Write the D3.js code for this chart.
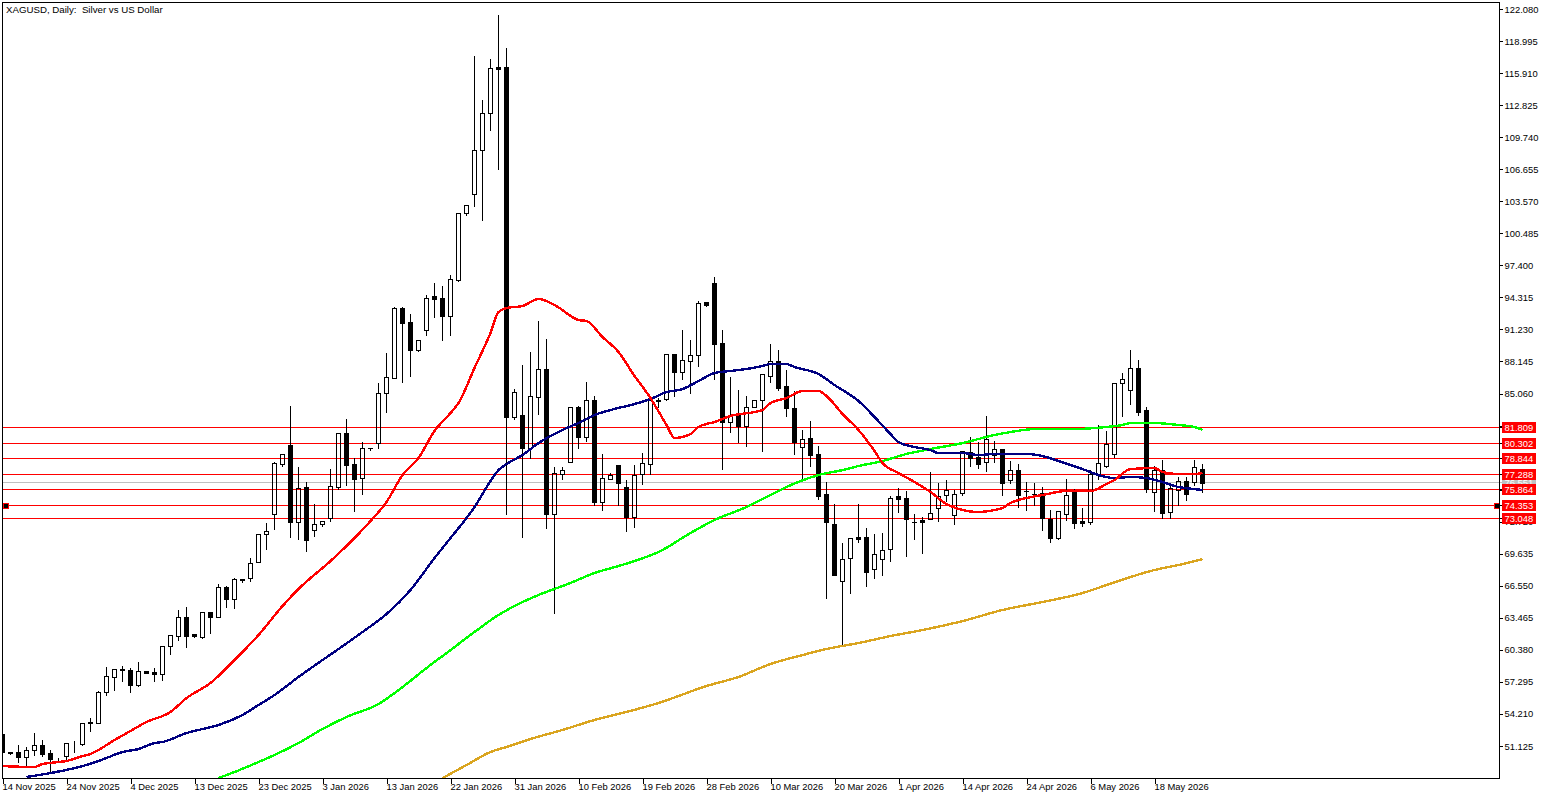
<!DOCTYPE html>
<html>
<head>
<meta charset="utf-8">
<title>XAGUSD Daily</title>
<script src="https://cdn.jsdelivr.net/npm/d3@7"></script>
<style>
  body { margin: 0; background: #fff; }
  svg { display: block; }
  text { font-family: "Liberation Sans", Arial, sans-serif; font-size: 9.4px; fill: #000; }
</style>
</head>
<body>
<svg id="chart" width="1547" height="799"></svg>
<script>
// Title and axis labels
var chartTitle = "XAGUSD, Daily:  Silver vs US Dollar";
var dateTickBars = [0, 8, 16, 24, 32, 40, 48, 56, 64, 72, 80, 88, 96, 104, 112, 120, 128, 136, 144];
var dateTickLabels = ["14 Nov 2025", "24 Nov 2025", "4 Dec 2025", "13 Dec 2025", "23 Dec 2025", "3 Jan 2026",
  "13 Jan 2026", "22 Jan 2026", "31 Jan 2026", "10 Feb 2026", "19 Feb 2026", "28 Feb 2026", "10 Mar 2026",
  "20 Mar 2026", "1 Apr 2026", "14 Apr 2026", "24 Apr 2026", "6 May 2026", "18 May 2026"];
var priceTicks = [122.08, 118.995, 115.91, 112.825, 109.74, 106.655, 103.57, 100.485, 97.4, 94.315, 91.23, 88.145,
  85.06, 81.975, 78.89, 75.805, 72.72, 69.635, 66.55, 63.465, 60.38, 57.295, 54.21, 51.125];

// Daily candles
var opens = [
  52.28,50.59,50.50,50.07,50.78,51.22,50.45,49.97,50.16,51.41,
  51.31,53.34,53.34,56.32,57.77,58.53,58.44,56.99,58.34,58.24,
  58.05,60.75,61.71,63.54,61.90,61.62,64.02,63.54,66.43,65.27,
  67.20,67.30,68.84,71.53,73.46,78.27,80.10,72.69,76.06,71.92,
  72.50,73.07,76.06,81.26,78.27,76.92,79.81,80.29,85.11,86.55,
  93.29,91.95,89.25,91.17,94.45,94.25,92.52,95.99,102.44,104.27,
  108.51,112.07,116.45,116.50,82.80,82.99,79.81,84.72,87.42,73.46,
  77.31,78.47,83.76,80.87,84.43,74.62,76.83,78.18,76.06,73.17,
  77.31,78.27,84.43,84.53,88.86,87.13,88.19,88.77,93.87,95.70,
  89.92,82.32,83.18,81.93,83.76,84.43,86.75,88.19,85.78,83.66,
  79.91,80.78,79.24,75.38,72.50,67.01,69.22,71.24,71.24,68.16,
  69.12,70.09,75.19,75.00,72.69,72.88,72.97,74.04,75.29,73.36,
  75.48,79.43,78.95,78.47,79.14,79.72,76.73,77.69,75.67,75.38,
  75.48,72.97,71.15,73.46,75.58,72.78,72.69,77.21,78.08,79.24,
  86.07,85.40,87.52,83.47,75.58,77.69,73.65,75.77,76.64,76.54,
  77.79];
var highs = [
  52.48,50.64,51.31,51.12,52.48,51.80,50.83,50.07,51.41,51.70,
  53.34,53.92,56.51,58.82,58.63,58.92,58.73,59.30,58.36,58.73,
  60.75,61.81,64.31,64.60,61.90,64.02,64.02,66.82,66.62,67.39,
  67.20,69.32,71.53,72.69,78.56,79.24,83.95,78.08,76.64,74.52,
  72.78,77.88,81.35,82.70,78.95,80.48,79.91,86.17,89.06,93.48,
  93.48,92.81,90.21,94.64,95.80,95.51,96.57,102.54,103.31,117.65,
  113.41,117.36,121.60,118.42,85.59,87.90,89.15,92.14,90.40,78.08,
  78.08,83.86,83.95,86.26,84.92,79.33,77.50,78.18,76.83,78.27,
  79.42,84.72,84.72,88.96,88.86,91.27,90.31,94.06,93.87,96.37,
  91.27,86.75,85.49,84.92,84.43,86.94,89.92,89.34,87.42,85.40,
  81.64,82.51,80.10,76.64,74.52,70.76,71.15,74.52,72.21,71.63,
  71.72,75.29,76.06,75.77,73.56,73.27,77.60,76.54,76.83,75.86,
  79.52,80.97,80.48,82.99,80.58,79.72,78.66,78.37,76.64,76.54,
  76.15,73.94,73.84,76.92,75.96,74.13,77.79,82.11,81.55,86.17,
  87.13,89.34,88.38,83.86,78.18,78.76,76.54,77.11,77.11,78.76,
  78.37];
var lows = [
  50.35,50.40,49.58,49.19,50.26,50.16,48.52,49.58,49.77,50.55,
  51.26,52.57,53.34,56.03,56.51,57.38,56.32,56.90,58.15,57.38,
  57.48,59.98,61.33,60.65,61.62,61.52,62.00,63.54,64.50,64.41,
  66.91,67.01,68.84,70.09,72.02,78.08,71.23,71.05,69.90,71.34,
  72.30,72.78,75.86,76.25,73.75,75.38,79.62,79.81,83.28,86.55,
  86.17,86.75,89.15,90.69,92.43,90.21,90.69,95.89,102.25,103.11,
  101.77,110.43,106.68,73.46,82.61,71.24,78.85,83.09,72.11,63.93,
  76.83,78.47,79.81,80.49,74.33,73.84,76.83,74.33,71.82,72.21,
  76.35,77.31,83.76,84.43,84.82,86.46,85.11,87.71,93.48,86.46,
  77.79,81.35,80.39,80.00,83.76,79.53,86.17,85.40,82.90,79.24,
  76.92,78.08,74.90,65.37,67.58,60.85,65.85,70.76,66.53,67.30,
  67.58,68.93,73.65,69.42,71.05,69.70,72.97,72.78,74.71,72.50,
  75.29,78.08,77.88,77.60,78.47,75.29,76.44,74.13,73.84,74.33,
  71.92,70.76,71.05,72.88,72.11,72.30,72.50,76.83,77.98,78.95,
  82.90,84.05,82.99,75.58,73.75,73.07,73.07,74.33,74.81,76.25,
  75.58];
var closes = [
  50.55,50.45,50.07,50.78,51.22,50.40,49.87,50.00,51.41,51.46,
  53.34,53.40,56.32,57.87,58.53,58.44,56.99,58.34,58.20,58.05,
  60.75,61.81,63.54,61.71,61.71,64.02,63.54,66.43,65.27,67.20,
  67.10,68.74,71.53,71.82,78.37,79.24,72.69,75.96,70.96,72.50,
  72.78,76.15,81.26,78.18,76.83,79.81,79.78,85.11,86.65,93.29,
  91.85,89.25,90.21,94.25,94.16,92.52,96.08,102.44,103.21,108.51,
  112.07,116.40,116.35,82.80,85.20,79.81,84.82,87.42,73.46,77.40,
  77.69,83.76,80.87,84.43,74.62,76.92,77.21,76.44,73.17,77.21,
  78.37,84.43,84.38,88.86,87.13,88.29,88.77,93.77,93.58,89.82,
  82.32,82.99,81.93,83.76,84.43,86.94,88.19,85.59,83.66,80.39,
  80.68,79.14,75.19,72.69,67.58,69.12,71.15,71.05,67.87,69.61,
  69.99,75.00,74.90,72.97,72.65,72.69,73.56,75.19,75.77,75.38,
  79.52,78.85,78.27,80.68,79.72,76.44,77.69,75.29,75.63,75.34,
  73.07,71.15,73.75,75.29,72.59,72.59,77.31,78.37,80.19,86.07,
  86.46,87.52,83.28,75.86,77.69,73.56,75.96,76.64,75.38,77.98,
  76.44];

// Moving averages at the listed bars
var redBars = [0,4,5,7,8,10,11,12,14,16,18,21,23,26,29,32,35,37,41,44,46,48,50,52,54,56,57,59,61,62,63,65,67,69,72,73,75,77,79,81,83,84,86,87,89,91,94,95,96,98,100,102,103,105,107,109,110,112,114,116,118,120,122,124,125,126,128,130,133,136,138,139,141,144,145,147,149,150];
var redValues = [49.19,49.10,49.39,49.58,49.68,50.16,50.35,50.74,51.70,52.57,53.44,54.40,55.74,57.19,59.40,61.81,64.60,66.24,68.93,71.15,72.78,74.62,77.21,78.85,81.45,83.18,84.14,87.52,90.89,92.91,93.29,93.48,94.16,93.58,92.14,92.04,90.50,89.06,86.75,84.63,82.03,80.78,81.16,81.84,82.32,82.90,83.28,83.47,84.14,84.63,85.30,85.30,84.82,83.09,81.55,79.53,78.37,77.40,76.54,75.58,74.42,73.84,73.65,73.84,74.04,74.52,75.00,75.29,75.67,75.67,76.35,76.73,77.79,77.88,77.50,77.31,77.31,77.40];
var navyBars = [3,6,10,12,13,15,17,19,20,23,25,27,30,32,34,37,40,42,45,48,51,54,56,58,59,60,61,62,63,65,67,70,72,74,76,79,81,83,85,87,89,91,93,95,96,98,99,102,104,107,109,111,112,114,116,117,120,122,124,128,130,132,135,137,139,141,143,145,147,149,150];
var navyValues = [48.14,48.52,49.19,49.68,49.97,50.55,50.83,51.41,51.51,52.37,52.76,53.15,54.11,55.07,56.03,57.77,59.40,60.46,62.10,63.83,66.14,69.22,71.15,73.07,74.13,75.38,76.64,77.69,78.27,79.14,80.29,81.55,82.22,82.99,83.47,84.05,84.53,85.20,85.49,86.26,87.03,87.23,87.42,87.71,87.90,87.90,87.61,86.94,85.88,84.34,82.80,81.16,80.39,79.91,79.62,79.33,79.33,79.14,79.24,79.24,79.04,78.56,77.79,77.21,76.92,77.02,76.92,76.54,76.06,75.86,75.77];
var limeBars = [27,29,32,34,37,40,43,47,50,53,56,59,62,64,67,71,74,77,79,82,86,89,93,96,98,102,105,107,110,113,116,120,122,124,126,129,134,138,140,141,144,147,149,150];
var limeValues = [48.04,48.62,49.58,50.26,51.41,52.76,53.92,55.17,56.80,58.63,60.36,62.10,63.74,64.60,65.66,66.82,67.78,68.45,68.93,69.80,71.63,72.88,74.13,75.29,76.06,77.21,77.69,78.08,78.56,79.24,79.72,80.29,80.68,81.07,81.35,81.64,81.64,81.84,82.03,82.22,82.22,82.03,81.84,81.55];
var goldBars = [55,58,61,63,66,70,74,78,82,88,92,96,100,103,107,111,115,120,125,130,135,138,141,144,147,150];
var goldValues = [48.04,49.29,50.55,51.03,51.80,52.67,53.63,54.40,55.26,56.90,57.77,59.02,59.88,60.46,61.04,61.71,62.29,63.15,64.22,64.99,65.85,66.62,67.39,68.07,68.55,69.12];

// Horizontal levels and the current price line
var levelValues = [81.809, 80.302, 78.844, 77.288, 75.864, 74.353, 73.048];
var selectedLevel = 74.353;
var bidPrice = 76.551;

var svg = d3.select("#chart");

// One candle every 8 px, price scale pinned on the printed ticks
var x = d3.scaleLinear().domain([0, 150]).range([2.5, 1202.5]);
var y = d3.scaleLinear().domain([51.125, 122.08]).range([746, 9]);
var yPx = v => Math.round(y(v));

svg.append("defs").append("clipPath").attr("id", "plot")
  .append("rect").attr("x", 3).attr("y", 3).attr("width", 1496).attr("height", 775);

var plot = svg.append("g").attr("clip-path", "url(#plot)");

// Levels sit behind the candles
plot.selectAll(".level").data(levelValues).enter().append("line")
  .attr("x1", 3).attr("x2", 1499)
  .attr("y1", d => yPx(d) + 0.5).attr("y2", d => yPx(d) + 0.5)
  .attr("stroke", "#ff0000").attr("shape-rendering", "crispEdges");

plot.append("line")
  .attr("x1", 3).attr("x2", 1499)
  .attr("y1", yPx(bidPrice) + 0.5).attr("y2", yPx(bidPrice) + 0.5)
  .attr("stroke", "#c0c0c0").attr("shape-rendering", "crispEdges");

// Candles
var bars = d3.range(opens.length).map(i => ({
  i: i, open: opens[i], high: highs[i], low: lows[i], close: closes[i]
}));
var candles = plot.selectAll(".candle").data(bars).enter().append("g")
  .attr("shape-rendering", "crispEdges");

// wick, split in two so hollow bodies stay empty
candles.append("line")
  .attr("x1", d => x(d.i)).attr("x2", d => x(d.i))
  .attr("y1", d => yPx(d.high) + 0.5)
  .attr("y2", d => yPx(Math.max(d.open, d.close)) + 0.5)
  .attr("stroke", "#000");
candles.append("line")
  .attr("x1", d => x(d.i)).attr("x2", d => x(d.i))
  .attr("y1", d => yPx(Math.min(d.open, d.close)) + 0.5)
  .attr("y2", d => yPx(d.low) + 0.5)
  .attr("stroke", "#000");

// bodies: up days are outlines, down days are solid
candles.filter(d => d.close >= d.open).append("rect")
  .attr("x", d => x(d.i) - 2)
  .attr("y", d => yPx(d.close) + 0.5)
  .attr("width", 4)
  .attr("height", d => yPx(d.open) - yPx(d.close))
  .attr("fill", "none").attr("stroke", "#000");
candles.filter(d => d.close < d.open).append("rect")
  .attr("x", d => x(d.i) - 2.5)
  .attr("y", d => yPx(d.open))
  .attr("width", 5)
  .attr("height", d => yPx(d.close) - yPx(d.open) + 1)
  .attr("fill", "#000");

// Moving averages on top
var maLine = d3.line().x(d => x(d[0])).y(d => y(d[1])).curve(d3.curveMonotoneX);
var maSeries = [
  { bars: goldBars, values: goldValues, color: "#daa520" },
  { bars: limeBars, values: limeValues, color: "#00ff00" },
  { bars: navyBars, values: navyValues, color: "#000080" },
  { bars: redBars, values: redValues, color: "#ff0000" }
];
maSeries.forEach(s => {
  plot.append("path")
    .attr("d", maLine(d3.zip(s.bars, s.values)))
    .attr("fill", "none").attr("stroke", s.color).attr("stroke-width", 2.4)
    .attr("shape-rendering", "crispEdges");
});

// Handles on the selected level
[5.5, 1496.5].forEach(cx => {
  svg.append("rect")
    .attr("x", cx - 2).attr("y", yPx(selectedLevel) - 2)
    .attr("width", 5).attr("height", 5)
    .attr("fill", "#000").attr("stroke", "#ff0000").attr("shape-rendering", "crispEdges");
});

// Frame
svg.append("rect").attr("x", 2.5).attr("y", 2.5).attr("width", 1497).attr("height", 776)
  .attr("fill", "none").attr("stroke", "#000").attr("shape-rendering", "crispEdges");

// Price axis
var yAxis = d3.axisRight(y).tickValues(priceTicks).tickSize(3).tickPadding(2)
  .tickFormat(d3.format(".3f"));
var yAxisG = svg.append("g").attr("transform", "translate(1499.5,0)").call(yAxis);
yAxisG.select(".domain").remove();
yAxisG.selectAll("line").attr("stroke", "#000").attr("shape-rendering", "crispEdges");
yAxisG.selectAll("text").attr("fill", "#000");
yAxisG.attr("font-size", null).attr("font-family", null);

// Date axis
var xAxis = d3.axisBottom(x).tickValues(dateTickBars).tickSize(5).tickPadding(0)
  .tickFormat((d, i) => dateTickLabels[i]);
var xAxisG = svg.append("g").attr("transform", "translate(0,778.5)").call(xAxis);
xAxisG.select(".domain").remove();
xAxisG.selectAll("line").attr("stroke", "#000").attr("shape-rendering", "crispEdges");
xAxisG.selectAll("text").attr("text-anchor", "start").attr("x", -0.5).attr("y", 5).attr("dy", "0.71em").attr("fill", "#000");
xAxisG.attr("font-size", null).attr("font-family", null);

// Price tags, the bid tag goes under the level tags
var tags = [{ value: bidPrice, color: "#c0c0c0" }]
  .concat(levelValues.map(v => ({ value: v, color: "#ff0000" })));
var tagG = svg.selectAll(".tag").data(tags).enter().append("g");
tagG.append("line")
  .attr("x1", 1500).attr("x2", 1503)
  .attr("y1", d => yPx(d.value) + 0.5).attr("y2", d => yPx(d.value) + 0.5)
  .attr("stroke", d => d.color === "#ff0000" ? "#000" : d.color).attr("shape-rendering", "crispEdges");
tagG.append("rect")
  .attr("x", 1502).attr("y", d => yPx(d.value) - 5)
  .attr("width", 34).attr("height", 11)
  .attr("fill", d => d.color);
tagG.append("text")
  .attr("x", 1504.5).attr("y", d => yPx(d.value) + 0.5).attr("dy", "0.36em")
  .style("fill", "#fff")
  .text(d => d.value.toFixed(3));

// Title
svg.append("text").attr("x", 6).attr("y", 13).style("font-size", "9.7px").style("white-space", "pre").text(chartTitle);
</script>
</body>
</html>
